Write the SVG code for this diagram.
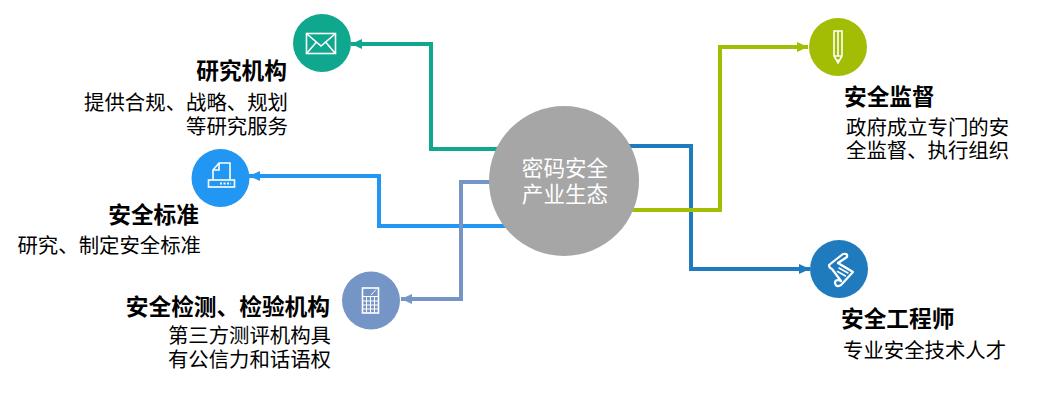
<svg xmlns="http://www.w3.org/2000/svg" width="1054" height="415" viewBox="0 0 1054 415">
<style>
text{font-family:"Noto Sans CJK SC","Noto Sans",sans-serif;fill:#000}
.t{font-size:22.700px;font-weight:700}
.d{font-size:20.400px}
.e{text-anchor:end}
.c{fill:#fff;font-size:21.600px;text-anchor:middle}
.l{fill:none;stroke-width:4}
.g{fill:none;stroke:#fff;stroke-width:1.600}
.w{fill:#fff}
</style>
<defs>
<marker id="a1" markerUnits="userSpaceOnUse" markerWidth="12" markerHeight="12" refX="11" refY="6" orient="auto"><path d="M0 1L11 6L0 11z" fill="#10a78f"/></marker>
<marker id="a2" markerUnits="userSpaceOnUse" markerWidth="12" markerHeight="12" refX="11" refY="6" orient="auto"><path d="M0 1L11 6L0 11z" fill="#2196f3"/></marker>
<marker id="a3" markerUnits="userSpaceOnUse" markerWidth="12" markerHeight="12" refX="11" refY="6" orient="auto"><path d="M0 1L11 6L0 11z" fill="#7595c6"/></marker>
<marker id="a4" markerUnits="userSpaceOnUse" markerWidth="12" markerHeight="12" refX="11" refY="6" orient="auto"><path d="M0 1L11 6L0 11z" fill="#a2bd04"/></marker>
<marker id="a5" markerUnits="userSpaceOnUse" markerWidth="12" markerHeight="12" refX="11" refY="6" orient="auto"><path d="M0 1L11 6L0 11z" fill="#1f7bbd"/></marker>
</defs>
<rect width="1054" height="415" fill="#fff"/>
<g id="connectors">
<path class="l" stroke="#10a78f" marker-end="url(#a1)" d="M500 149H431V44H351"/>
<path class="l" stroke="#2196f3" marker-end="url(#a2)" d="M510 226H379V176H249"/>
<path class="l" stroke="#7595c6" marker-end="url(#a3)" d="M495 182H461V299H401"/>
<path class="l" stroke="#1f7bbd" marker-end="url(#a5)" d="M625 146H691V269H810"/>
<path class="l" stroke="#a2bd04" marker-end="url(#a4)" d="M630 210H720V47H808"/>
</g>
<g id="center">
<circle cx="564" cy="181" r="75" fill="#a6a6a6"/>
<text class="c" x="565" y="176">密码安全</text>
<text class="c" x="565" y="202">产业生态</text>
</g>
<g id="research">
<circle cx="322" cy="43" r="29" fill="#10a78f"/>
<rect class="g" x="306.500" y="33.500" width="29" height="20"/>
<path class="g" d="M307 34L321 46L335 34M307 53L316.500 42M335 53L325.500 42"/>
<text class="t e" x="287" y="79">研究机构</text>
<text class="d e" x="288" y="110">提供合规、战略、规划</text>
<text class="d e" x="288" y="134">等研究服务</text>
</g>
<g id="standard">
<circle cx="220.500" cy="178" r="29" fill="#2196f3"/>
<path class="g" d="M213 180V170L219 163H230V180"/>
<path class="g" d="M213 170H219V163"/>
<rect class="g" x="208.500" y="180" width="26" height="7"/>
<path stroke="#fff" stroke-width="2" stroke-dasharray="2 1.500" d="M220 183.500H231"/>
<text class="t e" x="199" y="223">安全标准</text>
<text class="d e" x="201" y="253">研究、制定安全标准</text>
</g>
<g id="testing">
<circle cx="371" cy="300.500" r="29" fill="#7595c6"/>
<rect class="g" x="362.500" y="288" width="16" height="25"/>
<path class="g" style="stroke-width:1" d="M362.500 296.500H378.500M362.500 301H378.500M362.500 305H378.500M362.500 309H378.500M366.500 296.500V313M370.500 296.500V313M374.500 296.500V313"/>
<path class="g" style="stroke-width:1" d="M371 295L376 289.500"/>
<text class="t e" x="330" y="315">安全检测、检验机构</text>
<text class="d e" x="331" y="343">第三方测评机构具</text>
<text class="d e" x="331" y="367">有公信力和话语权</text>
</g>
<g id="oversight">
<circle cx="838" cy="47" r="29" fill="#a2bd04"/>
<path class="g" d="M834 31H842V56L838 63L834 56zM834 56H842M838 31V56"/>
<path class="w" d="M836.500 59.500H839.500L838 63z"/>
<text class="t" x="844" y="105">安全监督</text>
<text class="d" x="846" y="135">政府成立专门的安</text>
<text class="d" x="846" y="158">全监督、执行组织</text>
</g>
<g id="engineer">
<circle cx="839" cy="269" r="29" fill="#1f7bbd"/>
<g fill="none" stroke="#fff" stroke-width="2.200" stroke-linejoin="round" stroke-linecap="round">
<path d="M838 263L847 257Q848 253 843 254L829 265Q829 268 832 269L841 281"/>
<path d="M838 263L853 272L841 285Q836 288 835 283Q835 280 838 280L841 281"/>
<path stroke-width="1.500" d="M839 268L848 273M837.500 271.500L845.500 276M841 265L850 270"/>
</g>
<text class="t" x="841" y="327">安全工程师</text>
<text class="d" x="843" y="358">专业安全技术人才</text>
</g>
</svg>
